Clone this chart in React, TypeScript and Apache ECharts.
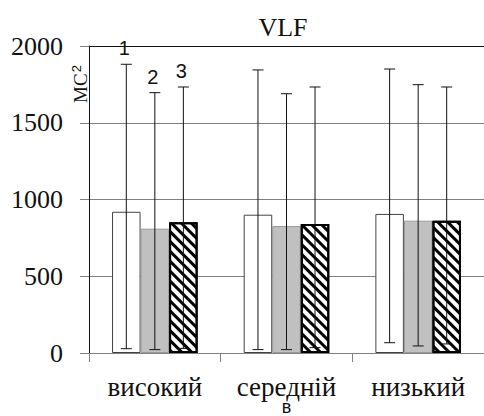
import React, { useEffect, useRef } from "react";
import * as echarts from "echarts";

const categories = ["високий", "середній", "низький"];
const axisNote = "в";
const seriesNames = ["1", "2", "3"];
const means = [
  [920, 901, 906],
  [810, 827, 862],
  [851, 840, 862],
];
const lows = [
  [28, 22, 67],
  [22, 22, 46],
  [30, 35, 59],
];
const highs = [
  [1881, 1844, 1850],
  [1696, 1689, 1748],
  [1733, 1733, 1733],
];
const yTicks = { min: 0, max: 2000, interval: 500 };

const BAND_FILL = 0.65;
const SERIF = "'Liberation Serif', 'Times New Roman', serif";
const SANS = "'Liberation Sans', Arial, sans-serif";

export default function App() {
  const ref = useRef<HTMLDivElement>(null);
  useEffect(() => {
    document.body.style.margin = "0";
    if (!ref.current) return;
    const chart = echarts.init(ref.current, null, { renderer: "svg" });

    const barStyles = [
      { color: "#ffffff", borderColor: "#444", borderWidth: 1 },
      { color: "#c0c0c0", borderColor: "#9a9a9a", borderWidth: 1 },
      {
        color: "#ffffff",
        borderColor: "#000",
        borderWidth: 2,
        decal: {
          symbol: "rect",
          symbolSize: 1,
          color: "#000",
          backgroundColor: "#fff",
          dashArrayX: [1, 0],
          dashArrayY: [3, 4],
          rotation: Math.PI / 4,
        },
      },
    ];

    const barSeries = seriesNames.map((n, s) => ({
      type: "bar",
      name: n,
      data: means[s],
      barGap: "0%",
      barCategoryGap: "35%",
      itemStyle: barStyles[s],
      z: 2,
    }));

    const errSeries = seriesNames.map((n, s) => ({
      type: "custom",
      name: "err" + n,
      z: 5,
      data: categories.map((_, i) => [i, lows[s][i], highs[s][i]]),
      encode: { x: 0, y: [1, 2] },
      renderItem: (params: any, api: any) => {
        const idx = api.value(0);
        const lo = api.value(1);
        const hi = api.value(2);
        const band = api.size([1, 0])[0];
        const bw = (band * BAND_FILL) / 3;
        const xc = api.coord([idx, 0])[0] + (s - 1) * bw;
        const yH = api.coord([idx, hi])[1];
        const yL = api.coord([idx, lo])[1];
        const cap = 5.5;
        const ls = { stroke: "#111", lineWidth: 1 };
        const children: any[] = [
          { type: "line", shape: { x1: xc, y1: yH, x2: xc, y2: yL }, style: ls },
          { type: "line", shape: { x1: xc - cap, y1: yH, x2: xc + cap, y2: yH }, style: ls },
          { type: "line", shape: { x1: xc - cap, y1: yL, x2: xc + cap, y2: yL }, style: ls },
        ];
        if (params.dataIndex === 0) {
          children.push({
            type: "text",
            style: {
              text: n,
              x: xc - 2,
              y: yH - 6,
              align: "center",
              verticalAlign: "bottom",
              fontFamily: SANS,
              fontSize: 20,
              fill: "#111",
            },
          });
        }
        return { type: "group", children };
      },
    }));

    chart.setOption({
      animation: false,
      backgroundColor: "#fff",
      title: {
        text: "VLF",
        left: 278,
        textAlign: "center",
        top: 9,
        textStyle: {
          fontFamily: SERIF,
          fontSize: 26,
          fontWeight: "normal",
          color: "#111",
        },
      },
      grid: { left: 89, right: -3, top: 46, bottom: 63, containLabel: false },
      xAxis: {
        type: "category",
        data: categories,
        axisLine: { show: true, lineStyle: { color: "#808080", width: 1 } },
        axisTick: { show: true, length: 9, lineStyle: { color: "#808080" } },
        axisLabel: {
          margin: 21,
          formatter: (v: string, i: number) =>
            i === 1 ? `{a|${v}}\n{b|${axisNote}}` : `{a|${v}}`,
          rich: {
            a: { fontFamily: SERIF, fontSize: 27, color: "#111", lineHeight: 25 },
            b: { fontFamily: SANS, fontSize: 18, color: "#111", lineHeight: 16 },
          },
        },
        splitLine: { show: false },
      },
      yAxis: {
        type: "value",
        min: yTicks.min,
        max: yTicks.max,
        interval: yTicks.interval,
        axisLine: { show: true, lineStyle: { color: "#111", width: 1 } },
        axisTick: { show: true, length: 9, lineStyle: { color: "#808080" } },
        axisLabel: {
          fontFamily: SERIF,
          fontSize: 26,
          color: "#111",
          margin: 26,
          formatter: (v: number) => String(v),
        },
        splitLine: {
          show: true,
          lineStyle: {
            color: ["#808080", "#808080", "#808080", "#808080", "#111"],
            width: 1,
          },
        },
      },
      graphic: [
        {
          type: "text",
          x: 70,
          y: 84,
          rotation: Math.PI / 2,
          style: {
            text: "{a|МС}{b|2}",
            align: "center",
            verticalAlign: "top",
            rich: {
              a: { fontFamily: SERIF, fontSize: 19, fill: "#111" },
              b: {
                fontFamily: SANS,
                fontSize: 13,
                fill: "#111",
                verticalAlign: "top",
                padding: [0, 0, 8, 1],
              },
            },
          },
        },
      ],
      series: [...barSeries, ...errSeries],
    });
    return () => chart.dispose();
  }, []);
  return <div ref={ref} style={{ width: 484, height: 416 }} />;
}
